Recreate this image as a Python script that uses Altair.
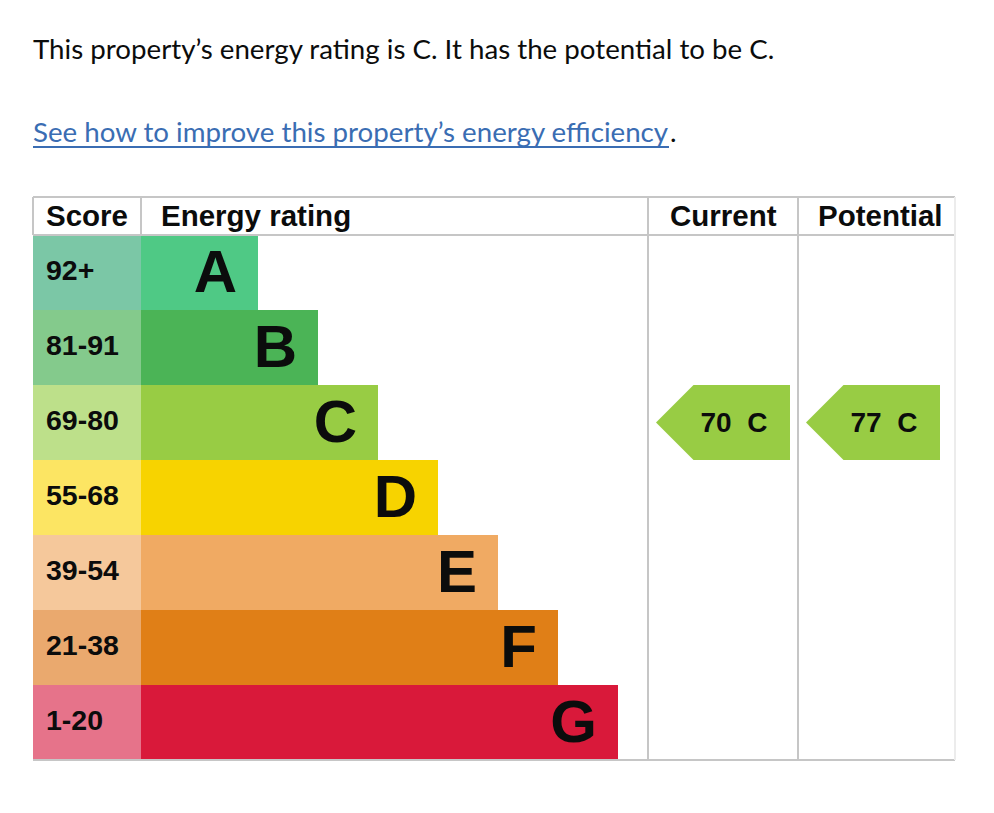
import altair as alt
import pandas as pd

# ---------------- data ----------------
headline = "This property’s energy rating is C. It has the potential to be C."
link_text = "See how to improve this property’s energy efficiency"
link_tail = "."
header_labels = ["Score", "Energy rating", "Current", "Potential"]
ratings = ["A", "B", "C", "D", "E", "F", "G"]
score_ranges = ["92+", "81-91", "69-80", "55-68", "39-54", "21-38", "1-20"]
band_min = [92, 81, 69, 55, 39, 21, 1]
bar_steps = [1, 2, 3, 4, 5, 6, 7]
bar_colors = ["#4fc985", "#4bb456", "#98cc44", "#f7d300", "#f0aa63", "#e07f17", "#d9193a"]
score_colors = ["#7bc7a6", "#84ca8c", "#bde08a", "#fce563", "#f5c89b", "#eaa96e", "#e6738a"]
current_score = 70
potential_score = 77

# ---------------- layout (page pixels) ----------------
W, H = 978, 797
X0, Y0 = 8, 8
TABLE_L, SCORE_R, RATING_R, CURRENT_R, TABLE_R = 33, 141, 648, 798, 955
TABLE_T, HEAD_B, ROW_H = 197, 235, 75
BAR_BASE, BAR_STEP = 57, 60
TABLE_B = HEAD_B + ROW_H * len(ratings)
LINE = "#c6c6c6"
LINK = "#3a6db3"
FONT_T = "Lato"
FONT_B = "Liberation Sans"

xs = alt.Scale(domain=[X0, X0 + W], nice=False, zero=False)
ys = alt.Scale(domain=[Y0, Y0 + H], reverse=True, nice=False, zero=False)


def X(f):
    return alt.X(f"{f}:Q", scale=xs, axis=None)


def Y(f):
    return alt.Y(f"{f}:Q", scale=ys, axis=None)


rows = []
for i, (r, s, step, bc, sc) in enumerate(zip(ratings, score_ranges, bar_steps, bar_colors, score_colors)):
    top = HEAD_B + i * ROW_H
    end = SCORE_R + BAR_BASE + BAR_STEP * step
    rows.append(dict(rating=r, score=s, top=top, bottom=top + ROW_H,
                     sl=TABLE_L, sr=SCORE_R, bend=end,
                     lx=end - 21, ly=top + 57, sx=TABLE_L + 13, sy=top + 45,
                     bc=bc, sc=sc))
rows = pd.DataFrame(rows)

score_cells = alt.Chart(rows).mark_rect().encode(
    x=X("sl"), x2="sr", y=Y("top"), y2="bottom",
    color=alt.Color("sc:N", scale=None))
bars = alt.Chart(rows).mark_rect().encode(
    x=X("sr"), x2="bend", y=Y("top"), y2="bottom",
    color=alt.Color("bc:N", scale=None))
letters = alt.Chart(rows).mark_text(
    font=FONT_B, fontWeight="bold", fontSize=60, align="right",
    baseline="alphabetic", color="#0b0c0c").encode(
    x=X("lx"), y=Y("ly"), text="rating:N")
score_text = alt.Chart(rows).mark_text(
    font=FONT_B, fontWeight="bold", fontSize=28.5, align="left",
    baseline="alphabetic", color="#0b0c0c").encode(
    x=X("sx"), y=Y("sy"), text="score:N")

# header labels
hdr = pd.DataFrame(dict(label=header_labels,
                        x=[TABLE_L + 13, SCORE_R + 20, RATING_R + 22, CURRENT_R + 20],
                        y=[HEAD_B - 9] * 4))
header = alt.Chart(hdr).mark_text(
    font=FONT_B, fontWeight="bold", fontSize=29.5, align="left",
    baseline="alphabetic", color="#0b0c0c").encode(
    x=X("x"), y=Y("y"), text="label:N")

# grid lines
segs = pd.DataFrame([
    dict(x=TABLE_L, x2=TABLE_R, y=TABLE_T, y2=TABLE_T),
    dict(x=TABLE_L, x2=TABLE_R, y=HEAD_B, y2=HEAD_B),
    dict(x=TABLE_L, x2=TABLE_R, y=TABLE_B, y2=TABLE_B),
    dict(x=TABLE_L, x2=TABLE_L, y=TABLE_T, y2=HEAD_B),
    dict(x=SCORE_R, x2=SCORE_R, y=TABLE_T, y2=HEAD_B),
    dict(x=RATING_R, x2=RATING_R, y=TABLE_T, y2=TABLE_B),
    dict(x=CURRENT_R, x2=CURRENT_R, y=TABLE_T, y2=TABLE_B),
])
grid = alt.Chart(segs).mark_rule(color=LINE, strokeWidth=2).encode(
    x=X("x"), x2="x2", y=Y("y"), y2="y2")
right_edge = alt.Chart(pd.DataFrame([dict(x=TABLE_R, y=TABLE_T, y2=TABLE_B)])).mark_rule(
    color="#ececec", strokeWidth=2).encode(x=X("x"), y=Y("y"), y2="y2")


def band_of(score):
    for i, m in enumerate(band_min):
        if score >= m:
            return i
    return len(band_min) - 1


pts, labels = [], []
for name, val, tip, end in [("current", current_score, RATING_R + 8, CURRENT_R - 8),
                            ("potential", potential_score, CURRENT_R + 8, TABLE_R - 15)]:
    i = band_of(val)
    top = HEAD_B + i * ROW_H
    mid = top + ROW_H / 2
    col = bar_colors[i]
    pts += [dict(a=name, x=tip, y=mid, y2=mid, c=col),
            dict(a=name, x=tip + ROW_H / 2, y=top, y2=top + ROW_H, c=col),
            dict(a=name, x=end, y=top, y2=top + ROW_H, c=col)]
    labels.append(dict(a=name, x=tip + 78, y=mid + 9, t=f"{val} \u00a0{ratings[i]}"))
pts = pd.DataFrame(pts)
labels = pd.DataFrame(labels)

arrows = alt.Chart(pts).mark_area(orient="vertical", interpolate="linear").encode(
    x=X("x"), y=Y("y"), y2="y2", detail="a:N", color=alt.Color("c:N", scale=None))
arrow_text = alt.Chart(labels).mark_text(
    font=FONT_B, fontWeight="bold", fontSize=28, align="center",
    baseline="alphabetic", color="#0b0c0c").encode(
    x=X("x"), y=Y("y"), text="t:N")

# text above the table
TSIZE = 27.7
top_df = pd.DataFrame([dict(t=headline, x=33, y=59)])
top_text = alt.Chart(top_df).mark_text(
    font=FONT_T, fontSize=TSIZE, align="left", baseline="alphabetic", color="#0b0c0c").encode(
    x=X("x"), y=Y("y"), text="t:N")

link_df = pd.DataFrame([dict(t=link_text, x=33, y=142)])
link = alt.Chart(link_df).mark_text(
    font=FONT_T, fontSize=TSIZE, align="left", baseline="alphabetic", color=LINK).encode(
    x=X("x"), y=Y("y"), text="t:N")
tail = alt.Chart(pd.DataFrame([dict(t=link_tail, x=670, y=142)])).mark_text(
    font=FONT_T, fontSize=TSIZE, align="left", baseline="alphabetic", color="#0b0c0c").encode(
    x=X("x"), y=Y("y"), text="t:N")
underline = alt.Chart(pd.DataFrame([dict(x=33, x2=669, y=147)])).mark_rule(
    color=LINK, strokeWidth=2).encode(x=X("x"), x2="x2", y=Y("y"))

chart = alt.layer(
    score_cells, bars, grid, right_edge, letters, score_text, header,
    arrows, arrow_text, top_text, link, tail, underline
).properties(
    width=W, height=H, padding=0, background="white",
    autosize=alt.AutoSizeParams(type="none")
).configure_view(stroke=None)

chart.save("out.html", embed_options={"renderer": "svg", "actions": False})
